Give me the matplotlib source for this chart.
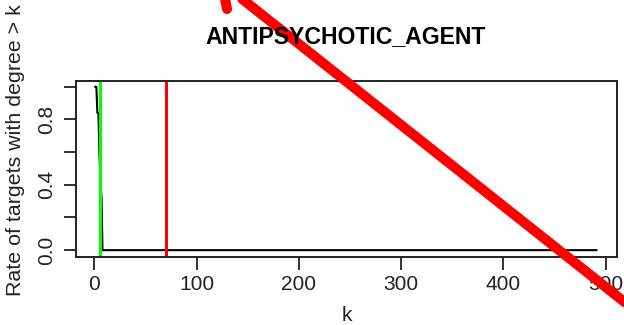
import matplotlib
matplotlib.use("Agg")
import matplotlib.pyplot as plt
from matplotlib.lines import Line2D

# degree complementary distribution
k_values = [1, 2, 3, 4, 5, 6, 7, 8, 491]
rate_values = [1.0, 1.0, 0.84, 0.84, 0.6, 0.4, 0.33, 0.0, 0.0]
green_k = 5.3
red_k = 70
x_ticks = [0, 100, 200, 300, 400, 500]
y_ticks = [0.0, 0.2, 0.4, 0.6, 0.8, 1.0]
y_tick_labels = ["0.0", "", "0.4", "", "0.8", ""]
title = "ANTIPSYCHOTIC_AGENT"

plt.rcParams['font.family'] = ['Liberation Sans', 'DejaVu Sans']

W, H = 624, 325
fig = plt.figure(figsize=(W / 100, H / 100), dpi=100)

def fx(px):
    return px / W

def fy(py):
    return 1 - py / H

ax = fig.add_axes([fx(75.7), fy(256.7), fx(616.7) - fx(75.7), fy(80.7) - fy(256.7)])
ax.plot(k_values, rate_values, color='black', lw=1.5)
ax.axvline(green_k, color='#00ff00', lw=2.2)
ax.axvline(red_k, color='#ff0000', lw=2.2)

ax.set_xlim(-18.2, 510.8)
ax.set_ylim(-0.04, 1.037)
ax.set_xticks(x_ticks)
ax.set_xticklabels([str(t) for t in x_ticks])
ax.set_yticks(y_ticks)
ax.set_yticklabels(y_tick_labels, rotation=90, va='center')
ax.tick_params(direction='out', length=9, width=1.3, labelsize=15, colors='#222222', pad=4)
ax.tick_params(axis='y', pad=5)
for s in ax.spines.values():
    s.set_linewidth(1.4)
    s.set_color('#222222')

fig.text(fx(346), fy(42.7), title, ha='center', va='baseline', fontsize=16.6, fontweight='bold')
fig.text(fx(346.7), fy(321), "k", ha='center', va='baseline', fontsize=15, color='#222222')
fig.text(fx(15.5), fy(150.5), "Rate of targets with degree > k", rotation=90,
         ha='center', va='center', fontsize=15.4, color='#222222')

# red arrow drawn over the chart
tip = (222, -17)
shaft = Line2D([fx(632), fx(tip[0])], [fy(308), fy(tip[1])], transform=fig.transFigure,
               color='#ff0000', lw=7.2, solid_capstyle='round')
barb = Line2D([fx(tip[0]), fx(227)], [fy(tip[1]), fy(9)], transform=fig.transFigure,
              color='#ff0000', lw=7.2, solid_capstyle='round')
fig.add_artist(shaft)
fig.add_artist(barb)

fig.savefig("out.png", dpi=100)
